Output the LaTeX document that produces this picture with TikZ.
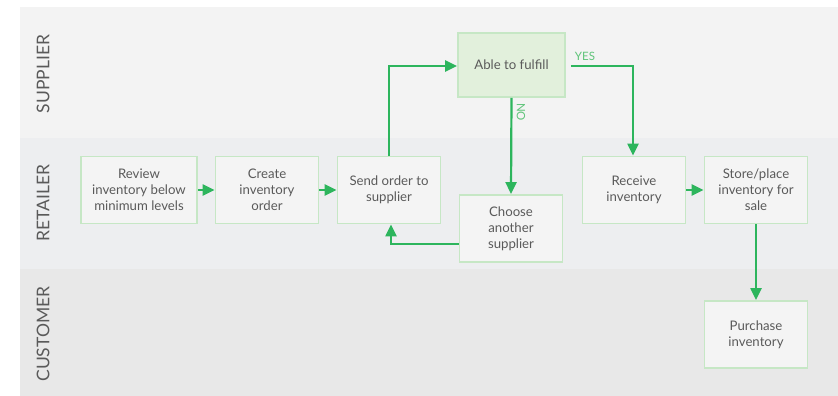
\documentclass[tikz,border=0pt]{standalone}
\usepackage{fontspec}
\setmainfont{Lato}
\usetikzlibrary{arrows.meta,positioning}
\definecolor{laneA}{HTML}{F3F3F3}
\definecolor{laneB}{HTML}{EDEEF0}
\definecolor{laneC}{HTML}{E8E8E8}
\definecolor{boxfill}{HTML}{F4F4F4}
\definecolor{boxline}{HTML}{C6E7C5}
\definecolor{decfill}{HTML}{E2F0DC}
\definecolor{flow}{HTML}{2DB55D}
\definecolor{txt}{HTML}{5A5A5A}
\definecolor{lbl}{HTML}{5FC47A}
\tikzset{
  x=1pt,y=-1pt,
  stepbox/.style={draw=boxline, line width=1.8pt, fill=boxfill, minimum width=103pt, minimum height=67pt, align=center, text=txt, font=\fontsize{13.2}{16}\selectfont, inner sep=2pt},
  flowline/.style={draw=flow, line width=2.2pt, -{Triangle[length=12pt,width=11pt]}},
  lanelabel/.style={rotate=90, text=txt, font=\fontsize{17.5}{20}\selectfont},
  yn/.style={text=lbl, font=\fontsize{11.5}{13}\selectfont}
}
\begin{document}
\begin{tikzpicture}
\useasboundingbox (0,0) rectangle (838,396);
\fill[white] (0,0) rectangle (838,396);
\fill[laneA] (20,7) rectangle (838,138);
\fill[laneB] (20,138) rectangle (838,269);
\fill[laneC] (20,269) rectangle (838,396);
\node[lanelabel] (lsup) at (43,74) {SUPPLIER};
\node[lanelabel] (lret) at (43,203) {RETAILER};
\node[lanelabel] (lcus) at (43,334) {CUSTOMER};

\node[stepbox, minimum width=116pt] (review) at (139,190) {Review\\inventory below\\minimum levels};
\node[stepbox] (create) at (267,190) {Create\\inventory\\order};
\node[stepbox] (send) at (389,190) {Send order to\\supplier};
\node[stepbox, fill=decfill, minimum width=107pt, minimum height=64pt] (able) at (511.5,65) {Able to fulfill};
\node[stepbox] (choose) at (511,228.5) {Choose\\another\\supplier};
\node[stepbox] (receive) at (634,190) {Receive\\inventory};
\node[stepbox] (store) at (756,190) {Store/place\\inventory for\\sale};
\node[stepbox] (purchase) at (756,334.5) {Purchase\\inventory};

\coordinate (c1) at (389,66);
\coordinate (c2) at (633,66);
\coordinate (c3) at (391,244);

\draw[flowline] (review) -- (create);
\draw[flowline] (create) -- (send);
\draw[flowline] (send.north) -- (c1) -- (able.west |- c1);
\draw[flowline, shorten <=5pt] (able.east |- c2) -- (c2) -- (receive.north -| c2);
\draw[flowline] (able.south) -- (choose.north);
\draw[flowline] (choose.west |- c3) -- (c3) -- (send.south -| c3);
\draw[flowline] (receive) -- (store);
\draw[flowline] (store) -- (purchase);

\node[yn, anchor=south] (yes) at (585,64) {YES};
\node[yn, rotate=-90] (no) at (521,112) {NO};
\end{tikzpicture}
\end{document}
